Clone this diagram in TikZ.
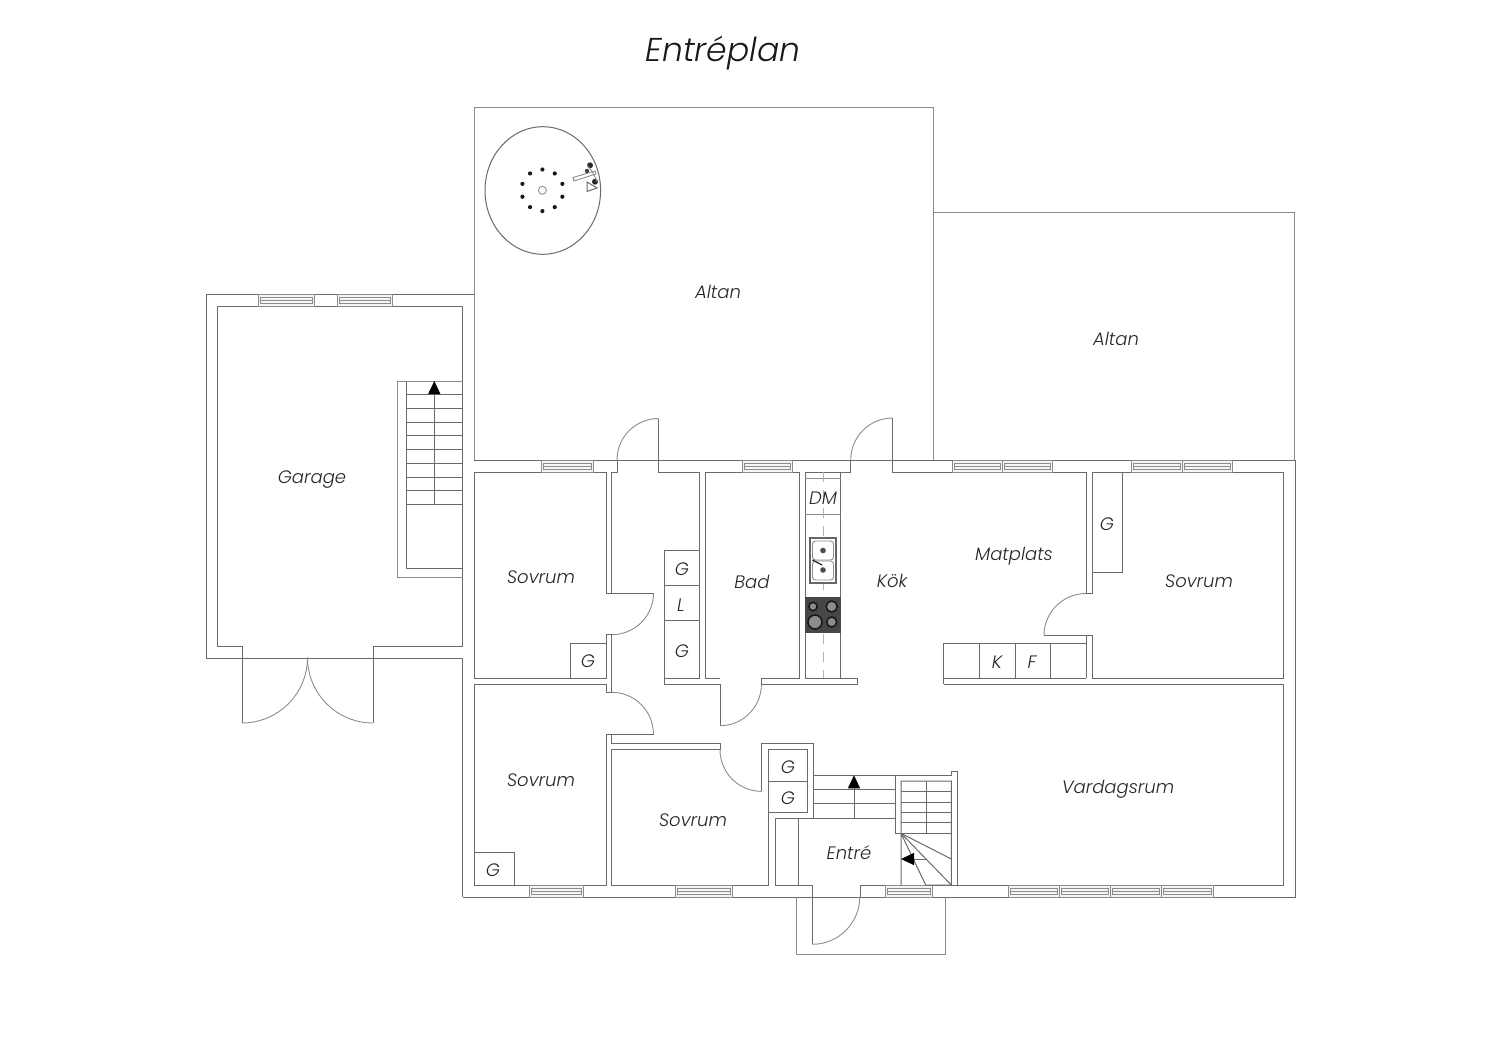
\documentclass[tikz,border=0pt]{standalone}
\usepackage{fontspec}
\setmainfont{Poppins}[UprightFont=* Light,ItalicFont=* Light Italic]
\usetikzlibrary{arrows.meta}
\definecolor{wallgray}{HTML}{6A6A6A}
\definecolor{thingray}{HTML}{8C8C8C}
\tikzset{
wall/.style = {draw=wallgray, line width=.5pt, line join=miter},
thin line/.style = {draw=thingray, line width=.45pt},
fonsterbox/.style = {draw=thingray, line width=.5pt, fill=black!4},
roomlabel/.style = {font=\itshape\fontsize{9}{11}\selectfont, text=black!85, inner sep=0pt},
titlelabel/.style = {font=\itshape\fontsize{16.5}{20}\selectfont, text=black!90, inner sep=0pt},
burner/.style = {draw=black!90, line width=.8pt, fill=black!45},
upward/.style = {wall, -{Triangle[length=6.5pt,width=6pt,black]}}
}
% window in a wall: left x, right x, top y
\newcommand{\fonster}[3]{
  \draw[fonsterbox] (#1,#3) rectangle (#2,#3+12);
  \draw[thin line] (#1+2,#3+3) rectangle (#2-2,#3+9);
  \draw[thin line] (#1+2,#3+6) -- (#2-2,#3+6);
}
\begin{document}
\begin{tikzpicture}[x=.5pt,y=-.5pt]
  \useasboundingbox (0,0) rectangle (1500,1060);

  % altan
  \draw[thin line] (474,460) -- (474,107) -- (933,107) -- (933,460);
  \draw[thin line] (933,212) -- (1294,212) -- (1294,460);

  % pool
  \draw[wall] (542.8,190.5) ellipse [x radius=57.8, y radius=63.8];
  \draw[thin line] (542.4,190.3) circle [radius=4];
  \foreach \ang in {0,36,...,324}
    \fill[black!90] ({542.4+21*sin(\ang)},{190.3-20.8*cos(\ang)}) circle [radius=2.1];
  \fill[black!85] (590,165.3) circle [radius=3];
  \fill[black!85] (595,181.7) circle [radius=3];
  \fill[black!75] (587,171) circle [radius=2.2];
  \draw[thin line, fill=white] (573,177.5) -- (595,171) -- (596,174) -- (574,181) -- cycle;
  \draw[wall, fill=white] (587,182) -- (587,191.5) -- (597,188) -- cycle;
  \draw[thin line] (587,165) .. controls (593,172) and (595,176) .. (597,182);

  % garage
  \draw[wall] (242,723) -- (242,646) -- (217,646) -- (217,306) -- (462.7,306) -- (462.7,646) -- (373,646) -- (373,723);
  \draw[wall] (474,294) -- (206,294) -- (206,658) -- (462.7,658) -- (462.7,897);
  \draw[thin line] (242,723) arc [start angle=90, end angle=0, radius=65.5];
  \draw[thin line] (373,723) arc [start angle=90, end angle=180, radius=65.5];
  \fonster{258.3}{314.3}{294}
  \fonster{337.3}{392.7}{294}

  % garage stairs
  \draw[thin line] (462.7,381) -- (397,381) -- (397,577) -- (462.7,577);
  \draw[wall] (406,381) -- (406,568) -- (462.7,568);
  \foreach \yy in {394.7,408.45,...,505}
    \draw[wall] (406,\yy) -- (462.7,\yy);
  \draw[upward] (434.3,504.7) -- (434.3,381);

  % outer walls
  \draw[wall] (474,460) -- (1295,460) -- (1295,897) -- (462.7,897);

  % sovrum top left
  \draw[wall] (606,593) -- (606,472) -- (474,472) -- (474,678.3) -- (606,678.3) -- (606,634.5) -- (611.7,634.5);
  \draw[wall] (606,593) -- (653.5,593);
  \draw[thin line] (653.5,593) arc [start angle=0, end angle=90, radius=41.7];
  \draw[wall] (570.3,678.3) -- (570.3,643.3) -- (606,643.3);
  \fonster{541.7}{593.3}{460}

  % hall
  \draw[wall] (611.7,593) -- (611.7,472) -- (617,472) -- (617,460);
  \draw[thin line] (617,460) arc [start angle=180, end angle=270, radius=41.5];
  \draw[wall] (658.3,418.5) -- (658.3,472) -- (699.7,472) -- (699.7,678.3);
  \draw[wall] (611.7,634.5) -- (611.7,692.3);
  \draw[wall] (699.7,550) -- (664,550) -- (664,684.3) -- (720,684.3);
  \draw[wall] (664,585) -- (699.7,585);
  \draw[wall] (664,620.7) -- (699.7,620.7);
  \draw[wall] (664,678.3) -- (699.7,678.3);

  % bad
  \draw[wall] (720,678.3) -- (705.7,678.3) -- (705.7,472) -- (799.3,472) -- (799.3,678.3) -- (761.3,678.3) -- (761.3,684.3);
  \draw[wall] (720,684.3) -- (720,725.7);
  \draw[thin line] (720,725.7) arc [start angle=90, end angle=0, radius=41.4];
  \fonster{742.7}{792.7}{460}

  % kitchen
  \draw[wall] (805,678.3) -- (805,472) -- (850.7,472) -- (850.7,460);
  \draw[thin line] (850.7,460) arc [start angle=180, end angle=270, radius=42];
  \draw[wall] (892.7,418) -- (892.7,472) -- (1086,472) -- (1086,593.5) -- (1092.3,593.5);
  \draw[thin line] (1086,593.5) arc [start angle=270, end angle=180, radius=42];
  \draw[wall] (1044,635.7) -- (1092.3,635.7) -- (1092.3,678.5);
  \draw[wall] (1086,635.7) -- (1086,678.3);
  \draw[wall] (805,678.3) -- (840.7,678.3) -- (840.7,472);
  \draw[wall] (761.3,684.3) -- (857.7,684.3) -- (857.7,678.3) -- (840.7,678.3);
  \draw[thin line] (805,478.3) -- (840.7,478.3);
  \draw[thin line] (805,514.3) -- (840.7,514.3);
  \draw[black!30, line width=.5pt, dash pattern=on 5pt off 4pt] (823,472) -- (823,678);
  \draw[wall] (943.7,684.3) -- (943.7,643.3) -- (1086,643.3);
  \draw[wall] (943.7,678.3) -- (1086,678.3);
  \draw[wall] (979.7,643.3) -- (979.7,678.3);
  \draw[wall] (1015,643.3) -- (1015,678.3);
  \draw[wall] (1050.7,643.3) -- (1050.7,678.3);
  \fonster{952.7}{1002.7}{460}
  \fonster{1002.7}{1052.7}{460}

  % sink
  \draw[draw=black!60, line width=1pt, fill=white] (810,538.3) rectangle (836,582.7);
  \draw[thin line, rounded corners=1.5pt] (812.5,541) rectangle (833.5,560);
  \draw[thin line, rounded corners=1.5pt] (812.5,561) rectangle (833.5,580);
  \fill[black!70] (823,550.5) circle [radius=2.8];
  \fill[black!70] (823,570) circle [radius=2.8];
  \draw[black!85, line width=.6pt] (812.5,560) -- (822,565);

  % hob
  \fill[black!72] (805,597.3) rectangle (840.7,632.7);
  \draw[burner] (813,606.5) circle [radius=4.2];
  \draw[burner] (831.7,606.5) circle [radius=5.5];
  \draw[burner] (815,622) circle [radius=7];
  \draw[burner] (831.7,622) circle [radius=5];

  % sovrum right
  \draw[wall] (1092.3,593.5) -- (1092.3,472) -- (1283.3,472) -- (1283.3,678.7) -- (1092.3,678.7);
  \draw[wall] (1122.3,472) -- (1122.3,572.3) -- (1092.3,572.3);
  \fonster{1131}{1182}{460}
  \fonster{1182}{1232.7}{460}

  % sovrum bottom left
  \draw[wall] (611.7,692.3) -- (606,692.3) -- (606,684.5) -- (474,684.5) -- (474,885) -- (606,885) -- (606,734) -- (654,734);
  \draw[thin line] (611.7,692.3) arc [start angle=270, end angle=360, radius=41.7];
  \draw[wall] (474,852.3) -- (514.3,852.3) -- (514.3,885);
  \fonster{529.3}{583.3}{885}

  % sovrum bottom middle
  \draw[wall] (611.7,734) -- (611.7,743.3) -- (720,743.3) -- (720,749.7) -- (611.7,749.7) -- (611.7,885) -- (768.3,885) -- (768.3,749.7) -- (807.7,749.7) -- (807.7,812.3) -- (768.3,812.3);
  \draw[thin line] (720,749.7) arc [start angle=180, end angle=90, radius=41.7];
  \draw[wall] (761.7,791.4) -- (761.7,743.3) -- (813.3,743.3) -- (813.3,818);
  \draw[wall] (768.3,781) -- (807.7,781);
  \fonster{675.3}{732.7}{885}

  % entre
  \draw[wall] (775,885) -- (775,818) -- (895,818);
  \draw[wall] (798.3,818) -- (798.3,885);
  \draw[wall] (775,885) -- (812.3,885) -- (812.3,944.3);
  \draw[thin line] (812.3,944.3) arc [start angle=90, end angle=0, radius=47.5];
  \draw[wall] (860,897) -- (860,885) -- (957.3,885);
  \draw[thin line] (796.7,897) -- (796.7,954.3) -- (945.7,954.3) -- (945.7,897);
  \fonster{885}{932.7}{885}

  % stairs at entre
  \draw[wall] (813.3,775.3) -- (951.3,775.3) -- (951.3,771.7) -- (957.3,771.7) -- (957.3,885);
  \draw[wall] (813.3,789.3) -- (895,789.3);
  \draw[wall] (813.3,803.7) -- (895,803.7);
  \draw[wall] (895,775.3) -- (895,833.3) -- (901,833.3);
  \draw[upward] (854,818) -- (854,775.3);
  \draw[wall] (901,885) -- (901,781) -- (951.3,781) -- (951.3,885) -- (925.7,885) -- (901,833.3);
  \draw[wall] (926,781) -- (926,833.3);
  \foreach \yy in {791.7,802.1,812.5,822.9,833.3}
    \draw[wall] (901,\yy) -- (951.3,\yy);
  \draw[wall] (901,833.3) -- (951.3,859);
  \draw[wall] (901,833.3) -- (951.3,885);
  \draw[upward] (926,859) -- (901,859);

  % bottom of vardagsrum
  \draw[wall] (943.7,684.3) -- (1283.3,684.3) -- (1283.3,885) -- (957.3,885);
  \fonster{1008}{1059}{885}
  \fonster{1059}{1110}{885}
  \fonster{1110}{1161.5}{885}
  \fonster{1161.5}{1213}{885}

  % labels
  \node [titlelabel] (title) at (723,53) {Entréplan};
  \node [roomlabel] (altanA) at (718,292) {Altan};
  \node [roomlabel] (altanB) at (1116,339) {Altan};
  \node [roomlabel] (garage) at (312,480) {Garage};
  \node [roomlabel] (sovrumA) at (541,577) {Sovrum};
  \node [roomlabel] (sovrumB) at (1199,581) {Sovrum};
  \node [roomlabel] (sovrumC) at (541,780) {Sovrum};
  \node [roomlabel] (sovrumD) at (693,820) {Sovrum};
  \node [roomlabel] (bad) at (752,582) {Bad};
  \node [roomlabel] (kok) at (892,581) {Kök};
  \node [roomlabel] (matplats) at (1014,556) {Matplats};
  \node [roomlabel] (vardagsrum) at (1118,789) {Vardagsrum};
  \node [roomlabel] (entre) at (849,853) {Entré};
  \node [roomlabel] (dm) at (823,498) {DM};
  \node [roomlabel] (garderobA) at (682,569) {G};
  \node [roomlabel] (linneskap) at (681,605) {L};
  \node [roomlabel] (garderobB) at (682,651) {G};
  \node [roomlabel] (garderobC) at (588,661) {G};
  \node [roomlabel] (garderobD) at (1107,524) {G};
  \node [roomlabel] (garderobE) at (788,767) {G};
  \node [roomlabel] (garderobF) at (788,798) {G};
  \node [roomlabel] (garderobG) at (493,870) {G};
  \node [roomlabel] (kyl) at (997,662) {K};
  \node [roomlabel] (frys) at (1032,662) {F};
\end{tikzpicture}
\end{document}
